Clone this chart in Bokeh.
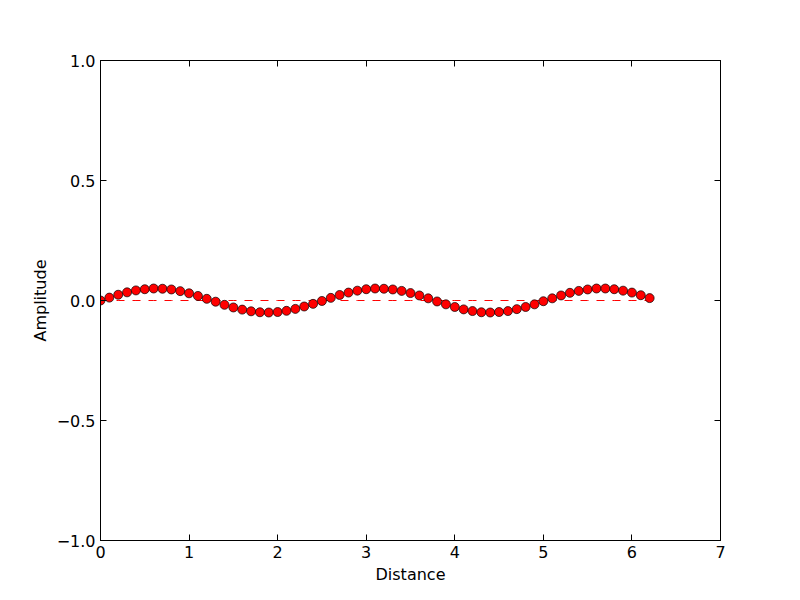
from bokeh.plotting import figure
from bokeh.models import LinearAxis, FixedTicker, Range1d
from bokeh.embed import file_html
from bokeh.resources import INLINE

distance = [0.0, 0.1, 0.2, 0.3, 0.4, 0.5, 0.6, 0.7, 0.8, 0.9,
            1.0, 1.1, 1.2, 1.3, 1.4, 1.5, 1.6, 1.7, 1.8, 1.9,
            2.0, 2.1, 2.2, 2.3, 2.4, 2.5, 2.6, 2.7, 2.8, 2.9,
            3.0, 3.1, 3.2, 3.3, 3.4, 3.5, 3.6, 3.7, 3.8, 3.9,
            4.0, 4.1, 4.2, 4.3, 4.4, 4.5, 4.6, 4.7, 4.8, 4.9,
            5.0, 5.1, 5.2, 5.3, 5.4, 5.5, 5.6, 5.7, 5.8, 5.9,
            6.0, 6.1, 6.2]
amplitude = [0.000, 0.012, 0.024, 0.034, 0.042, 0.047, 0.050, 0.049, 0.046, 0.039,
             0.030, 0.019, 0.007, -0.005, -0.018, -0.029, -0.038, -0.045, -0.049, -0.050,
             -0.048, -0.043, -0.035, -0.025, -0.014, -0.002, 0.011, 0.023, 0.033, 0.041,
             0.047, 0.050, 0.049, 0.046, 0.040, 0.031, 0.021, 0.009, -0.004, -0.016,
             -0.027, -0.037, -0.044, -0.049, -0.050, -0.048, -0.044, -0.036, -0.027, -0.016,
             -0.003, 0.009, 0.021, 0.032, 0.040, 0.046, 0.050, 0.050, 0.047, 0.041,
             0.033, 0.022, 0.010]
baseline = [0.0] * len(distance)

x_ticks = [0, 1, 2, 3, 4, 5, 6, 7]
y_ticks = [-1.0, -0.5, 0.0, 0.5, 1.0]
y_tick_labels = {-1.0: "\u22121.0", -0.5: "\u22120.5", 0.0: "0.0", 0.5: "0.5", 1.0: "1.0"}
x_tick_labels = {t: str(t) for t in x_ticks}

FONT = "DejaVu Sans"

p = figure(width=792, height=592, output_backend="svg", toolbar_location=None,
           x_range=Range1d(0, 7), y_range=Range1d(-1, 1),
           min_border_left=100, min_border_right=72, min_border_top=60, min_border_bottom=52,
           x_axis_location=None, y_axis_location=None)
p.background_fill_color = "white"
p.border_fill_color = "white"
p.outline_line_color = "black"
p.outline_line_width = 1
p.grid.visible = False

def style(ax, labels, overrides):
    ax.major_tick_in = 6
    ax.major_tick_out = 0
    ax.minor_tick_in = 0
    ax.minor_tick_out = 0
    ax.axis_line_color = "black"
    ax.major_tick_line_color = "black"
    ax.major_label_text_font = FONT
    ax.major_label_text_font_size = "16px"
    ax.major_label_text_color = "black"
    ax.axis_label_text_font = FONT
    ax.axis_label_text_font_size = "16px"
    ax.axis_label_text_font_style = "normal"
    ax.axis_label_text_color = "black"
    if labels:
        ax.major_label_overrides = overrides
        ax.major_label_standoff = 5
    else:
        ax.major_label_text_font_size = "0px"
        ax.major_label_text_color = None

xb = LinearAxis(ticker=FixedTicker(ticks=x_ticks), axis_label="Distance")
style(xb, True, x_tick_labels)
xb.axis_label_standoff = 4
xt = LinearAxis(ticker=FixedTicker(ticks=x_ticks))
style(xt, False, None)
yl = LinearAxis(ticker=FixedTicker(ticks=y_ticks), axis_label="Amplitude")
style(yl, True, y_tick_labels)
yl.axis_label_standoff = 4
yr = LinearAxis(ticker=FixedTicker(ticks=y_ticks))
style(yr, False, None)

p.add_layout(xb, "below")
p.add_layout(xt, "above")
p.add_layout(yl, "left")
p.add_layout(yr, "right")

p.line(distance, baseline, line_color="red", line_width=1, line_dash="8 8")
p.scatter(distance, amplitude, size=9, fill_color="red", line_color="black", line_width=0.7)

open("out.html", "w").write(file_html(p, INLINE))
